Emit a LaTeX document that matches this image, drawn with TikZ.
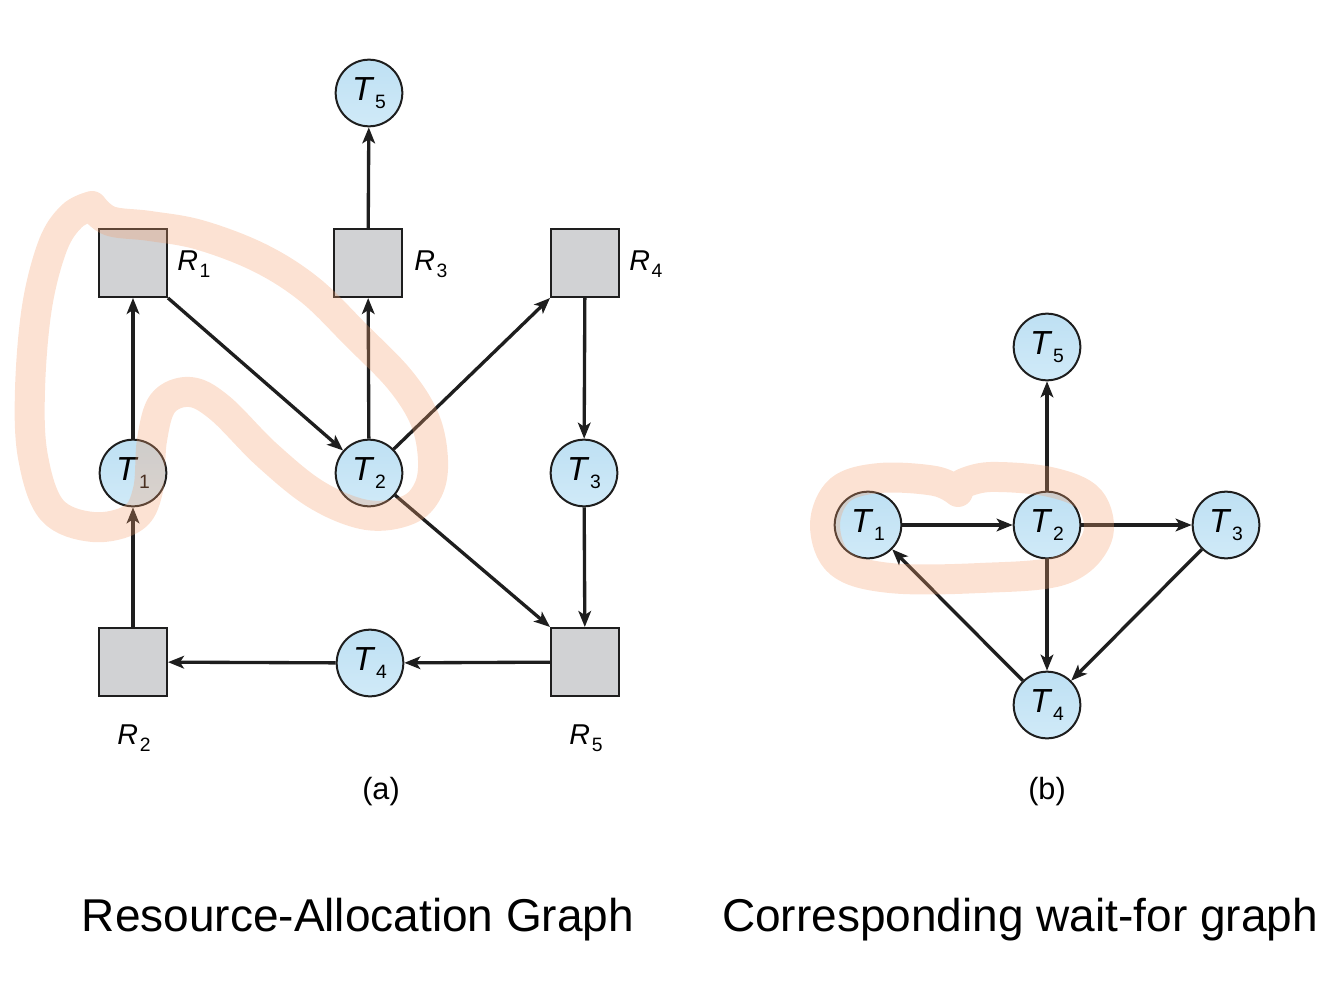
\documentclass[tikz,border=0pt]{standalone}
\usepackage{fontspec}
\setmainfont{Liberation Sans}
\usetikzlibrary{arrows.meta}
\definecolor{procblue}{RGB}{208,234,248}
\definecolor{procblue2}{RGB}{190,224,243}
\definecolor{resgray}{RGB}{209,210,212}
\definecolor{edgecol}{RGB}{30,30,30}
\definecolor{hl}{RGB}{245,160,110}
\newcommand\tlab[1]{\textit{T}\kern0.02em\raisebox{-0.45ex}{\fontsize{14.5}{15}\selectfont #1}}
\newcommand\rlab[1]{\textit{R}\kern0.06em\raisebox{-0.45ex}{\fontsize{14.5}{15}\selectfont #1}}
\begin{document}
\begin{tikzpicture}[x=0.75pt,y=-0.75pt,
  proc/.style={circle, draw=edgecol, line width=1.5pt, minimum size=50pt, inner sep=0pt,
    top color=procblue2, bottom color=procblue, font=\fontsize{25}{26}\selectfont},
  res/.style={rectangle, draw=edgecol, line width=1.5pt, minimum size=51pt, inner sep=0pt, fill=resgray},
  rl/.style={font=\fontsize{21.5}{23}\selectfont, inner sep=0pt},
  edge/.style={draw=edgecol, line width=2.5pt, -{Stealth[length=12pt,width=9.5pt,inset=3pt]}},
  hlstroke/.style={draw=hl, line width=22.5pt, opacity=0.3, line cap=round, line join=round},
  sublabel/.style={font=\fontsize{23}{25}\selectfont},
  title/.style={font=\fontsize{34.5}{38}\selectfont}
]
\useasboundingbox (0,0) rectangle (1341,999);

% ---------- (a) Resource-Allocation Graph ----------
\node[proc] (aT5) at (369,93) {\tlab{5}};
\node[res] (R1) at (133,263) {};
\node[res] (R3) at (368,263) {};
\node[res] (R4) at (585,263) {};
\node[proc] (aT1) at (133,473) {\tlab{1}};
\node[proc] (aT2) at (369,473) {\tlab{2}};
\node[proc] (aT3) at (584,473) {\tlab{3}};
\node[res] (R2) at (133,662) {};
\node[proc] (aT4) at (370,663) {\tlab{4}};
\node[res] (R5) at (585,662) {};

\node[rl, anchor=west] (lR1) at (177,264) {\rlab{1}};
\node[rl, anchor=west] (lR3) at (414,264) {\rlab{3}};
\node[rl, anchor=west] (lR4) at (629,264) {\rlab{4}};
\node[rl] (lR2) at (134,738) {\rlab{2}};
\node[rl] (lR5) at (586,738) {\rlab{5}};

\draw[edge] (aT1) -- (R1);
\draw[edge] (R1.south east) -- (aT2);
\draw[edge] (aT2) -- (R3);
\draw[edge] (R3) -- (aT5);
\draw[edge] (aT2) -- (R4.south west);
\draw[edge] (R4) -- (aT3);
\draw[edge] (aT2) -- (R5.north west);
\draw[edge] (aT3) -- (R5);
\draw[edge] (R5) -- (aT4);
\draw[edge] (aT4) -- (R2);
\draw[edge] (R2) -- (aT1);

\node[sublabel] (capa) at (381,792) {(a)};

% ---------- (b) wait-for graph ----------
\node[proc] (bT5) at (1047,347) {\tlab{5}};
\node[proc] (bT1) at (868,525) {\tlab{1}};
\node[proc] (bT2) at (1047,525) {\tlab{2}};
\node[proc] (bT3) at (1226,525) {\tlab{3}};
\node[proc] (bT4) at (1047,705) {\tlab{4}};

\draw[edge] (bT1) -- (bT2);
\draw[edge] (bT2) -- (bT5);
\draw[edge] (bT2) -- (bT3);
\draw[edge] (bT2) -- (bT4);
\draw[edge] (bT3) -- (bT4);
\draw[edge] (bT4) -- (bT1);

\node[sublabel] (capb) at (1047,792) {(b)};

% ---------- highlight strokes ----------
\draw[hlstroke] plot[smooth, tension=0.6] coordinates {
 (92,206) (110,221) (150,226) (200,235) (260,258) (310,290) (356,335) (400,380)
 (425,420) (433,460) (428,490) (408,510) (367,515) (317,495) (267,455) (220,408)
 (190,392) (163,403) (152,440) (148,490) (133,518) (93,527) (52,510) (33,457)
 (30,390) (37,307) (53,245) (72,216) (92,206)};
\draw[hlstroke] plot[smooth, tension=0.6] coordinates {
 (958,492) (935,481) (880,478) (840,490) (825,525) (840,563) (890,578) (980,578)
 (1062,570) (1097,538) (1090,500) (1050,482) (990,477) (962,484)};

% ---------- titles ----------
\node[title] (t1) at (358,920) {Resource-Allocation Graph};
\node[title] (t2) at (1020,920) {Corresponding wait-for graph};
\end{tikzpicture}
\end{document}
